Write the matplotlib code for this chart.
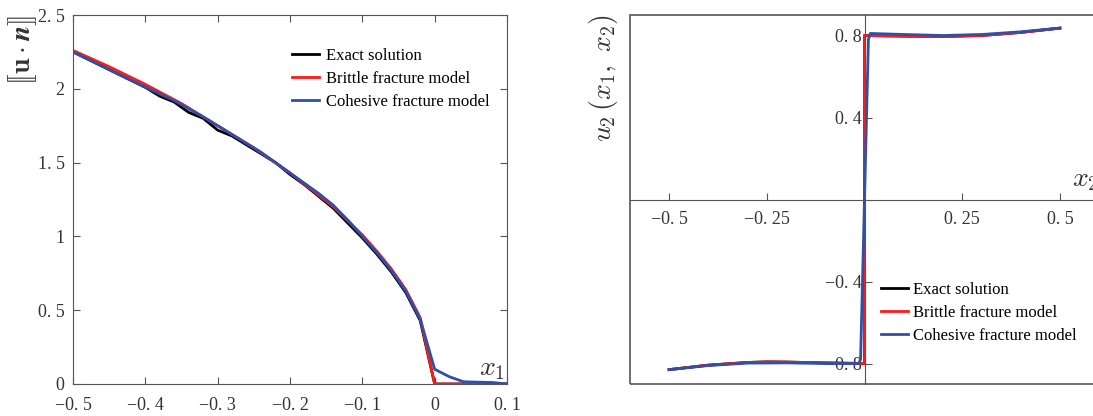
import matplotlib.pyplot as plt
from matplotlib.patches import Rectangle

plt.rcParams['font.family'] = ['Liberation Serif', 'DejaVu Serif']
plt.rcParams['mathtext.fontset'] = 'cm'

# left panel: jump of normal displacement along x1
x1_exact = [-0.5, -0.45, -0.4, -0.38, -0.36, -0.34, -0.32, -0.3, -0.28, -0.26, -0.24, -0.22, -0.2,
            -0.18, -0.16, -0.14, -0.12, -0.1, -0.08, -0.06, -0.04, -0.02, 0.0, 0.1]
jump_exact = [2.25, 2.13, 2.01, 1.95, 1.91, 1.84, 1.80, 1.72, 1.68, 1.62, 1.56, 1.50, 1.42,
              1.35, 1.27, 1.19, 1.09, 0.99, 0.88, 0.76, 0.62, 0.43, 0.0, 0.0]
x1_brittle = [-0.5, -0.45, -0.4, -0.35, -0.3, -0.25, -0.2, -0.15, -0.14, -0.1, -0.08, -0.06,
              -0.04, -0.02, 0.0, 0.1]
jump_brittle = [2.26, 2.15, 2.03, 1.90, 1.75, 1.60, 1.43, 1.24, 1.20, 1.01, 0.90, 0.78,
                0.64, 0.45, 0.0, 0.0]
x1_cohesive = [-0.5, -0.45, -0.4, -0.36, -0.32, -0.28, -0.24, -0.2, -0.16, -0.14, -0.12, -0.1,
               -0.08, -0.06, -0.04, -0.02, 0.0, 0.02, 0.04, 0.08, 0.1]
jump_cohesive = [2.25, 2.13, 2.01, 1.92, 1.81, 1.69, 1.57, 1.43, 1.29, 1.21, 1.11, 1.00,
                 0.89, 0.77, 0.63, 0.44, 0.10, 0.05, 0.015, 0.01, 0.0]

# right panel: u2 profile across x2
x2_exact = [-0.5, -0.4, -0.3, -0.25, -0.2, -0.1, 0.0, 0.0, 0.1, 0.2, 0.3, 0.4, 0.5]
u2_exact = [-0.83, -0.808, -0.795, -0.792, -0.793, -0.797, -0.80, 0.80, 0.797, 0.795, 0.80, 0.815, 0.836]
x2_brittle = x2_exact
u2_brittle = [-0.83, -0.808, -0.795, -0.792, -0.793, -0.797, -0.80, 0.80, 0.797, 0.795, 0.80, 0.815, 0.836]
x2_cohesive = [-0.5, -0.4, -0.3, -0.2, -0.1, -0.015, -0.01, 0.0, 0.01, 0.015, 0.1, 0.2, 0.3, 0.4, 0.5]
u2_cohesive = [-0.83, -0.81, -0.798, -0.797, -0.80, -0.80, -0.78, 0.0, 0.78, 0.81, 0.805, 0.80, 0.805, 0.818, 0.836]

labels = ['Exact solution', 'Brittle fracture model', 'Cohesive fracture model']
colors = ['black', '#ff1a1a', '#2f4fa8']

left_xticks = [-0.5, -0.4, -0.3, -0.2, -0.1, 0, 0.1]
left_xlabels = ['\u22120. 5', '\u22120. 4', '\u22120. 3', '\u22120. 2', '\u22120. 1', '0', '0. 1']
left_yticks = [0, 0.5, 1, 1.5, 2, 2.5]
left_ylabels = ['0', '0. 5', '1', '1. 5', '2', '2. 5']
right_xticks = [-0.5, -0.25, 0.25, 0.5]
right_xlabels = ['\u22120. 5', '\u22120. 25', '0. 25', '0. 5']
right_yticks = [-0.8, -0.4, 0.4, 0.8]
right_ylabels = ['\u22120. 8', '\u22120. 4', '0. 4', '0. 8']

fig = plt.figure(figsize=(10.93, 4.16), dpi=100)
W, H = 1093, 416
spine_col = '#555555'
tick_col = '#333333'

# ---- left ----
ax = fig.add_axes([73 / W, 1 - 384 / H, 434 / W, 369 / H])
ax.plot(x1_exact, jump_exact, color=colors[0], lw=2, label=labels[0])
ax.plot(x1_brittle, jump_brittle, color=colors[1], lw=2, label=labels[1])
ax.plot(x1_cohesive, jump_cohesive, color=colors[2], lw=2, label=labels[2])
ax.set_xlim(-0.5, 0.1)
ax.set_ylim(0, 2.5)
ax.set_xticks(left_xticks, left_xlabels)
ax.set_yticks(left_yticks, left_ylabels)
ax.tick_params(direction='in', length=5, top=True, right=True, labelsize=13,
               colors=spine_col, labelcolor=tick_col)
ax.tick_params(axis='x', pad=9)
ax.tick_params(axis='y', pad=6)
for s in ax.spines.values():
    s.set_color(spine_col)
ax.set_ylabel(r'$[\![\mathbf{u}\cdot\boldsymbol{n}]\!]$', fontsize=20, color=tick_col)
ax.yaxis.set_label_coords(-0.078, 0.905)
ax.text(0.995, 0.005, r'$x_1$', transform=ax.transAxes, fontsize=20, ha='right', va='bottom',
        color=tick_col)
ax.legend(loc='upper left', bbox_to_anchor=(0.505, 0.91), frameon=False, fontsize=12,
          handlelength=1.6, handletextpad=0.4, labelspacing=0.42, borderaxespad=0, borderpad=0)

# ---- right ----
ax2 = fig.add_axes([630 / W, 1 - 384 / H, 469 / W, 369 / H])
ax2.plot(x2_exact, u2_exact, color=colors[0], lw=2, label=labels[0])
ax2.plot(x2_brittle, u2_brittle, color=colors[1], lw=2, label=labels[1])
ax2.plot(x2_cohesive, u2_cohesive, color=colors[2], lw=2, label=labels[2])
ax2.set_xlim(-0.6, 0.6)
ax2.set_ylim(-0.9, 0.9)
ax2.spines['left'].set_position('zero')
ax2.spines['bottom'].set_position('zero')
ax2.spines['top'].set_visible(False)
ax2.spines['right'].set_visible(False)
for s in ax2.spines.values():
    s.set_color(spine_col)
ax2.add_patch(Rectangle((0, 0), 1, 1, transform=ax2.transAxes, fill=False,
                        edgecolor=spine_col, lw=1.2, clip_on=False))
ax2.set_xticks(right_xticks, right_xlabels)
ax2.set_yticks(right_yticks, right_ylabels)
ax2.tick_params(axis='x', direction='in', length=5, labelsize=13, colors=spine_col,
                labelcolor=tick_col, pad=8)
ax2.tick_params(axis='y', direction='in', length=5, labelsize=13, colors=spine_col,
                labelcolor=tick_col, pad=2)
ax2.set_ylabel(r'$u_2\,(x_1,\ x_2)$', fontsize=20, color=tick_col)
ax2.yaxis.set_label_coords(-0.021, 0.83)
ax2.text(0.53, 0.03, r'$x_2$', fontsize=20, color=tick_col, ha='left', va='bottom')
ax2.legend(loc='upper left', bbox_to_anchor=(0.535, 0.277), frameon=False, fontsize=12,
           handlelength=1.6, handletextpad=0.3, labelspacing=0.42, borderaxespad=0, borderpad=0)

fig.savefig('out.png', dpi=100)
